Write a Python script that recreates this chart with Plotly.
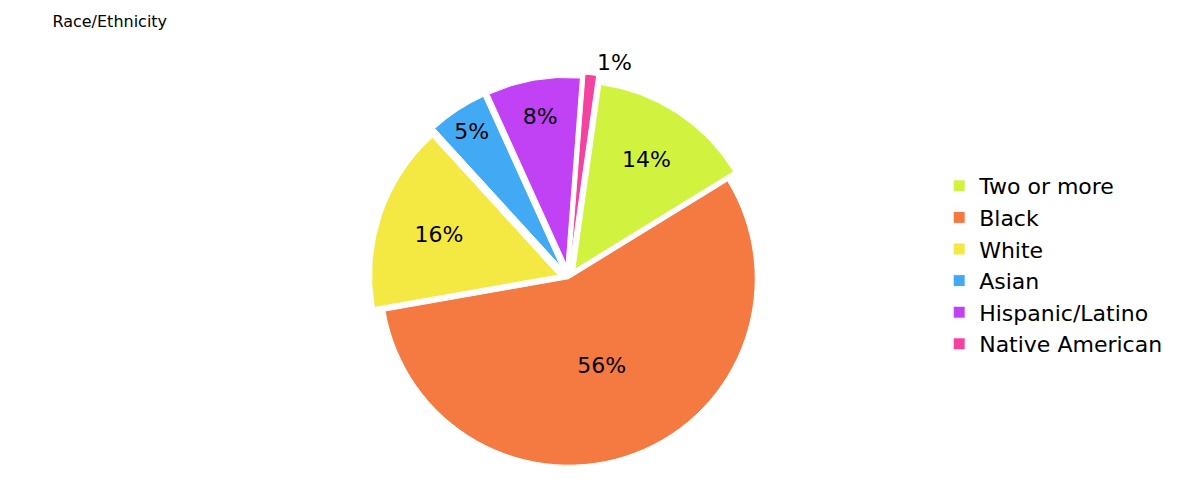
import plotly.graph_objects as go

categories = ["Two or more", "Black", "White", "Asian", "Hispanic/Latino", "Native American"]
values = [14, 56, 16, 5, 8, 1]
colors = ["#d2f240", "#f47a42", "#f4e842", "#42aaf4", "#c042f4", "#f442a0"]
pulls = [0.06, 0, 0.06, 0.08, 0.08, 0.1]
textpos = ["inside", "inside", "inside", "inside", "inside", "outside"]

fig = go.Figure(go.Pie(
    labels=categories, values=values, sort=False, direction="clockwise",
    rotation=8, pull=pulls,
    marker=dict(colors=colors, line=dict(color="white", width=1)),
    textinfo="percent", textposition=textpos, insidetextorientation="horizontal",
    textfont=dict(size=22, color="black", family="DejaVu Sans"),
    domain=dict(x=[0.02, 0.74], y=[0.02, 0.92]),
))
fig.update_layout(
    width=1200, height=500, paper_bgcolor="white",
    margin=dict(l=10, r=10, t=10, b=10),
    title=dict(text="Race/Ethnicity", x=0.037, y=0.985, yanchor="top", xanchor="left",
               font=dict(size=16, color="black", family="DejaVu Sans")),
    legend=dict(x=0.745, y=0.5, yanchor="middle",
                font=dict(size=22, color="black", family="DejaVu Sans")),
)
fig.write_html("out.html")
